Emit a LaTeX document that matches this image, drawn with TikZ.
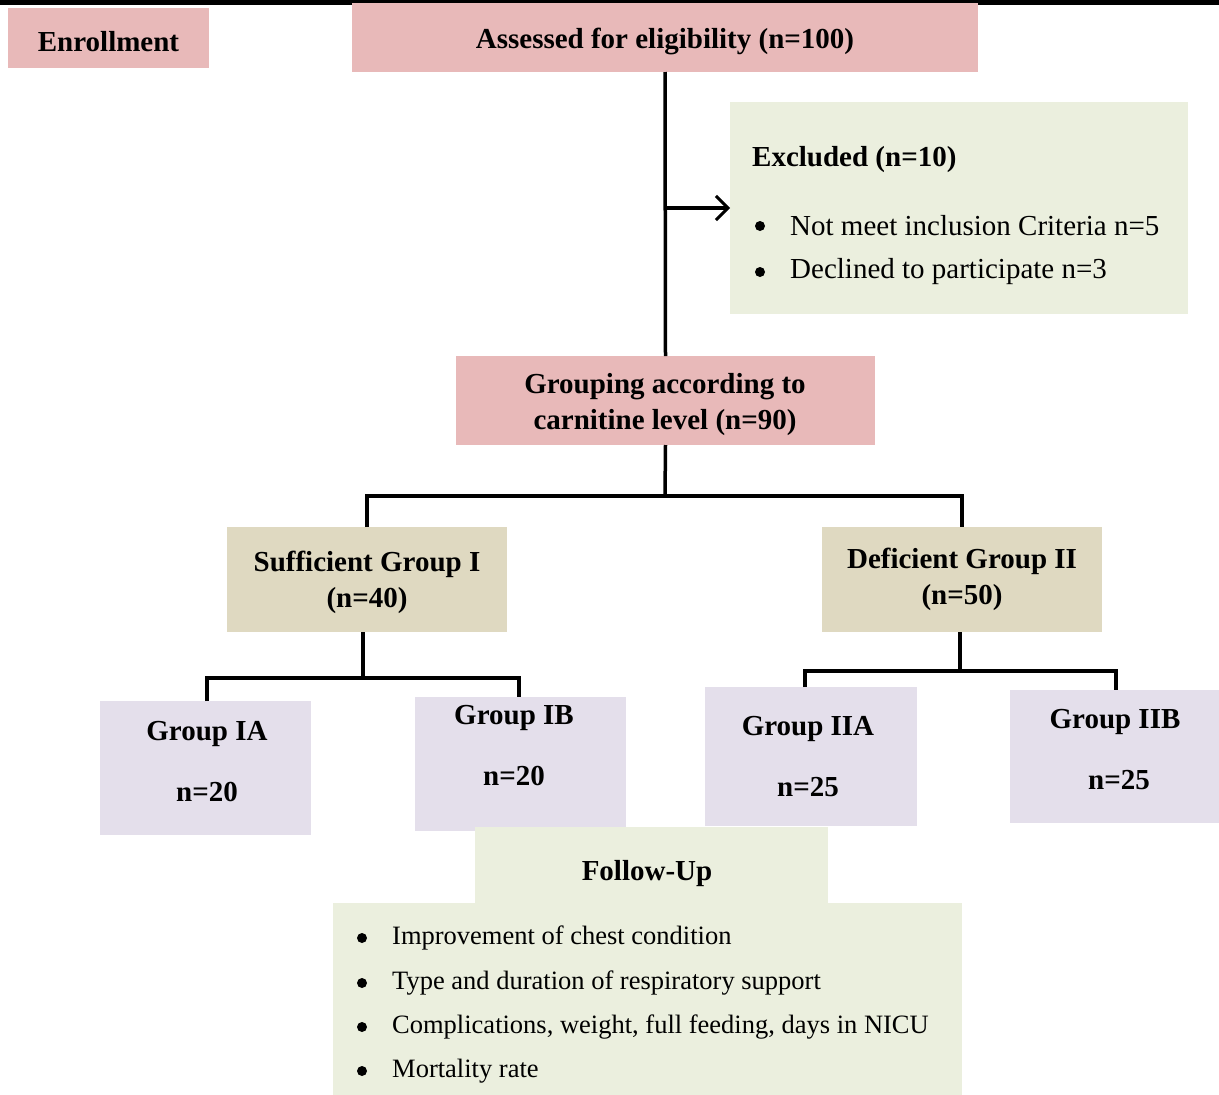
\documentclass[tikz,border=0pt]{standalone}
\usepackage{fontspec}
\setmainfont{Liberation Serif}
\usetikzlibrary{arrows.meta}
\definecolor{pinkc}{HTML}{E8B9B9}
\definecolor{greenc}{HTML}{EBEFDE}
\definecolor{tanc}{HTML}{DFD9C1}
\definecolor{lavc}{HTML}{E4DFEB}
\begin{document}
\begin{tikzpicture}[x=1pt,y=-1pt,
  boxx/.style={draw=none,inner sep=0pt,outer sep=0pt},
  hd/.style={font=\fontsize{29}{33}\selectfont\bfseries,inner sep=0pt},
  bd/.style={font=\fontsize{29}{33}\selectfont,inner sep=0pt,anchor=west},
  bf/.style={font=\fontsize{26.5}{31}\selectfont,inner sep=0pt,anchor=west},
  conn/.style={line width=3.5pt},
  dot/.style={circle,fill=black,inner sep=0pt,minimum size=10pt}]
\useasboundingbox (0,0) rectangle (1219,1095);
\fill[black] (0,0) rectangle (1219,4.5);
% boxes
\node[boxx,fill=pinkc,minimum width=201pt,minimum height=60pt] (enr) at (108.5,38) {};
\node[boxx,fill=pinkc,minimum width=626pt,minimum height=69pt] (ass) at (665,37.5) {};
\node[boxx,fill=greenc,minimum width=458pt,minimum height=212pt] (exc) at (959,208) {};
\node[boxx,fill=pinkc,minimum width=419pt,minimum height=89pt] (grp) at (665.5,400.5) {};
\node[boxx,fill=tanc,minimum width=280pt,minimum height=105pt] (suf) at (367,579.5) {};
\node[boxx,fill=tanc,minimum width=280pt,minimum height=105pt] (def) at (962,579.5) {};
\node[boxx,fill=lavc,minimum width=211pt,minimum height=134pt] (ia) at (205.5,768) {};
\node[boxx,fill=lavc,minimum width=211pt,minimum height=134pt] (ib) at (520.5,764) {};
\node[boxx,fill=lavc,minimum width=212pt,minimum height=139pt] (iia) at (811,756.5) {};
\node[boxx,fill=lavc,minimum width=209pt,minimum height=133pt] (iib) at (1114.5,756.5) {};
\node[boxx,fill=greenc,minimum width=629pt,minimum height=192pt] (fub) at (647.5,999) {};
\node[boxx,fill=greenc,minimum width=353pt,minimum height=78pt] (fuh) at (651.5,866) {};
% texts
\node[hd] (tenr) at (108.5,42) {Enrollment};
\node[hd] (tass) at (665,41) {Assessed for eligibility (n=100)};
\node[hd,anchor=west] (texc) at (752,160) {Excluded (n=10)};
\node[dot] (d1) at (760,226) {};
\node[bd] (t1) at (790,226) {Not meet inclusion Criteria n=5};
\node[dot] (d2) at (760,272) {};
\node[bd] (t2) at (790,272) {Declined to participate n=3};
\node[hd] (tg1) at (665,387) {Grouping according to};
\node[hd] (tg2) at (665,423) {carnitine level (n=90)};
\node[hd] (ts1) at (367,564) {Sufficient Group I};
\node[hd] (ts2) at (367,601) {(n=40)};
\node[hd] (td1) at (962,561) {Deficient Group II};
\node[hd] (td2) at (962,598) {(n=50)};
\node[hd] (tia1) at (207,734) {Group IA};
\node[hd] (tia2) at (207,792) {n=20};
\node[hd] (tib1) at (514,718) {Group IB};
\node[hd] (tib2) at (514,776) {n=20};
\node[hd] (tiia1) at (808,729) {Group IIA};
\node[hd] (tiia2) at (808,787) {n=25};
\node[hd] (tiib1) at (1115,722) {Group IIB};
\node[hd] (tiib2) at (1119,780) {n=25};
\node[hd] (tfu) at (647,874) {Follow-Up};
\node[dot] (f1) at (362,938) {};
\node[bf] (u1) at (392,938) {Improvement of chest condition};
\node[dot] (f2) at (362,983) {};
\node[bf] (u2) at (392,983) {Type and duration of respiratory support};
\node[dot] (f3) at (362,1027) {};
\node[bf] (u3) at (392,1027) {Complications, weight, full feeding, days in NICU};
\node[dot] (f4) at (362,1071) {};
\node[bf] (u4) at (392,1071) {Mortality rate};
% connectors
\coordinate (ab) at (665,208);
\draw[conn] (ass.south) -- (grp.north);
\draw[conn,-{Straight Barb[length=12pt,width=24pt,line width=3pt]}] (ab) -- (exc.west |- ab);
\coordinate (gj) at (665,496);
\draw[conn] (grp.south) -- (gj);
\draw[conn] (suf.north) |- (gj) -| (def.north);
\coordinate (sj) at (363,678);
\draw[conn] (suf.south -| sj) -- (sj);
\draw[conn] ([xshift=1.5pt]ia.north) |- (sj) -| ([xshift=-1.5pt]ib.north);
\coordinate (dj) at (960,671);
\draw[conn] (def.south -| dj) -- (dj);
\draw[conn] ([xshift=-6pt]iia.north) |- (dj) -| ([xshift=1.5pt]iib.north);
\end{tikzpicture}
\end{document}
